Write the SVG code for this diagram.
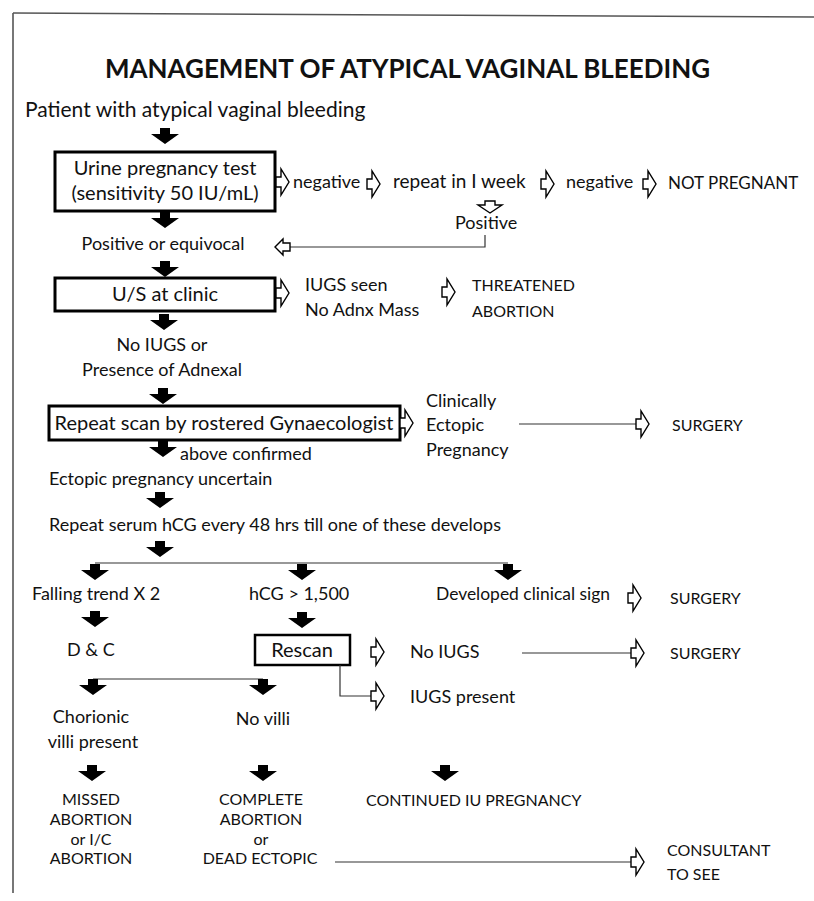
<svg xmlns="http://www.w3.org/2000/svg" width="814" height="901" viewBox="0 0 814 901">
<style>
.t{font-family:Lato,"Open Sans","Liberation Sans",sans-serif;font-size:18px;fill:#111}
.c{text-anchor:middle}
.cap{font-size:16px}
.ttl{font-family:Lato,"Open Sans","Liberation Sans",sans-serif;font-weight:bold;font-size:27px;fill:#111}
.box{fill:#fff;stroke:#000;stroke-width:3}
.ln{fill:none;stroke:#333;stroke-width:1.2}
.fr{fill:none;stroke:#555;stroke-width:1.6}
.ha{fill:#fff;stroke:#000;stroke-width:1.4}
.ba{fill:#000}
</style>
<defs>
<path id="ba" d="M-5,0H5V6H14L0,16L-14,6H-5Z"/>
<path id="har" d="M0,-5H5V-13L13,0L5,13V5H0Z"/>
</defs>
<rect width="814" height="901" fill="#fff"/>
<g id="frame">
<path class="fr" d="M13,13L814,17"/>
<path class="fr" d="M13,13V893"/>
</g>
<g id="title"><text class="ttl" x="105" y="78" textLength="605" lengthAdjust="spacingAndGlyphs">MANAGEMENT OF ATYPICAL VAGINAL BLEEDING</text></g>
<g id="n-patient"><text class="t" x="25" y="117" style="font-size:21px">Patient with atypical vaginal bleeding</text></g>
<g id="n-urine"><rect class="box" x="55" y="152" width="220" height="59"/>
<text class="t c" x="165" y="175" style="font-size:20px">Urine pregnancy test</text>
<text class="t c" x="165" y="200" style="font-size:20px">(sensitivity 50 IU/mL)</text></g>
<g id="n-neg1"><text class="t" x="293" y="188">negative</text></g>
<g id="n-repeat"><text class="t" x="393" y="188" style="font-size:19px">repeat in I week</text></g>
<g id="n-neg2"><text class="t" x="566" y="188">negative</text></g>
<g id="n-notpreg"><text class="t cap" x="668" y="189" style="font-size:17px">NOT PREGNANT</text></g>
<g id="n-positive"><text class="t" x="455" y="229">Positive</text></g>
<g id="n-posequiv"><text class="t c" x="163" y="250">Positive or equivocal</text></g>
<g id="n-us"><rect class="box" x="55" y="278" width="220" height="33"/>
<text class="t c" x="165" y="301" style="font-size:20px">U/S at clinic</text></g>
<g id="n-iugsseen"><text class="t" x="305" y="291">IUGS seen</text><text class="t" x="305" y="316">No Adnx Mass</text></g>
<g id="n-threatened"><text class="t cap" x="472" y="291">THREATENED</text><text class="t cap" x="472" y="317">ABORTION</text></g>
<g id="n-noiugs"><text class="t c" x="162" y="351">No IUGS or</text><text class="t c" x="162" y="376">Presence of Adnexal</text></g>
<g id="n-repeatscan"><rect class="box" x="49" y="406" width="351" height="34"/>
<text class="t c" x="224" y="430" style="font-size:20px">Repeat scan by rostered Gynaecologist</text></g>
<g id="n-clinically"><text class="t" x="426" y="407">Clinically</text><text class="t" x="426" y="431">Ectopic</text><text class="t" x="426" y="456">Pregnancy</text></g>
<g id="n-surgery1"><text class="t cap" x="672" y="431">SURGERY</text></g>
<g id="n-above"><text class="t" x="180" y="460">above confirmed</text></g>
<g id="n-ectunc"><text class="t" x="49" y="485">Ectopic pregnancy uncertain</text></g>
<g id="n-serum"><text class="t" x="49" y="531">Repeat serum hCG every 48 hrs till one of these develops</text></g>
<g id="n-falling"><text class="t" x="32" y="600">Falling trend X 2</text></g>
<g id="n-hcg"><text class="t" x="249" y="600">hCG &gt; 1,500</text></g>
<g id="n-developed"><text class="t" x="436" y="600" textLength="174" lengthAdjust="spacingAndGlyphs">Developed clinical sign</text></g>
<g id="n-surgery2"><text class="t cap" x="670" y="604">SURGERY</text></g>
<g id="n-dc"><text class="t" x="67" y="656">D &amp; C</text></g>
<g id="n-rescan"><rect class="box" x="255" y="635" width="95" height="30" style="stroke-width:2.5"/>
<text class="t c" x="302" y="657" style="font-size:20px">Rescan</text></g>
<g id="n-noiugs2"><text class="t" x="410" y="658">No IUGS</text></g>
<g id="n-surgery3"><text class="t cap" x="670" y="659">SURGERY</text></g>
<g id="n-iugspresent"><text class="t" x="410" y="703">IUGS present</text></g>
<g id="n-chorionic"><text class="t c" x="91" y="723">Chorionic</text><text class="t c" x="93" y="748">villi present</text></g>
<g id="n-novilli"><text class="t c" x="263" y="725">No villi</text></g>
<g id="n-missed"><text class="t cap c" x="91" y="805">MISSED</text><text class="t cap c" x="91" y="825">ABORTION</text><text class="t cap c" x="91" y="845">or I/C</text><text class="t cap c" x="91" y="864">ABORTION</text></g>
<g id="n-complete"><text class="t cap c" x="261" y="805">COMPLETE</text><text class="t cap c" x="261" y="825">ABORTION</text><text class="t cap c" x="261" y="845">or</text><text class="t cap c" x="260" y="864">DEAD ECTOPIC</text></g>
<g id="n-continued"><text class="t cap" x="366" y="806">CONTINUED IU PREGNANCY</text></g>
<g id="n-consultant"><text class="t cap" x="667" y="856">CONSULTANT</text><text class="t cap" x="667" y="880">TO SEE</text></g>
<g id="connectors">
<use href="#ba" class="ba" x="165" y="128"/>
<use href="#ba" class="ba" x="165" y="212"/>
<use href="#ba" class="ba" x="165" y="261"/>
<use href="#ba" class="ba" x="164" y="314"/>
<use href="#ba" class="ba" x="163" y="388"/>
<use href="#ba" class="ba" x="163" y="441"/>
<use href="#ba" class="ba" x="160" y="492"/>
<use href="#ba" class="ba" x="160" y="541"/>
<path class="ln" d="M95,563H508"/>
<use href="#ba" class="ba" x="95" y="564"/>
<use href="#ba" class="ba" x="302" y="564"/>
<use href="#ba" class="ba" x="508" y="564"/>
<use href="#ba" class="ba" x="95" y="611"/>
<use href="#ba" class="ba" x="302" y="612"/>
<path class="ln" d="M93,679H263"/>
<use href="#ba" class="ba" x="93" y="679"/>
<use href="#ba" class="ba" x="263" y="679"/>
<use href="#ba" class="ba" x="92" y="765"/>
<use href="#ba" class="ba" x="263" y="765"/>
<use href="#ba" class="ba" x="445" y="765"/>
<use href="#har" class="ha" x="276" y="182"/>
<use href="#har" class="ha" x="367" y="184"/>
<use href="#har" class="ha" x="541" y="184"/>
<use href="#har" class="ha" x="643" y="184"/>
<path class="ha" d="M485,201H495V205H502L490,213L478,205H485Z"/>
<path class="ln" d="M485,235V247H290"/>
<path class="ha" d="M275,247L283,239V243H290V251H283V255Z"/>
<use href="#har" class="ha" x="276" y="293"/>
<use href="#har" class="ha" x="442" y="292"/>
<use href="#har" class="ha" x="400" y="423"/>
<path class="ln" d="M519,424H636"/>
<use href="#har" class="ha" x="636" y="424"/>
<use href="#har" class="ha" x="628" y="598"/>
<use href="#har" class="ha" x="371" y="652"/>
<path class="ln" d="M522,653H631"/>
<use href="#har" class="ha" x="631" y="653"/>
<path class="ln" d="M340,665V696H371"/>
<use href="#har" class="ha" x="371" y="696"/>
<path class="ln" d="M335,862H631"/>
<use href="#har" class="ha" x="631" y="862"/>
</g>
</svg>
